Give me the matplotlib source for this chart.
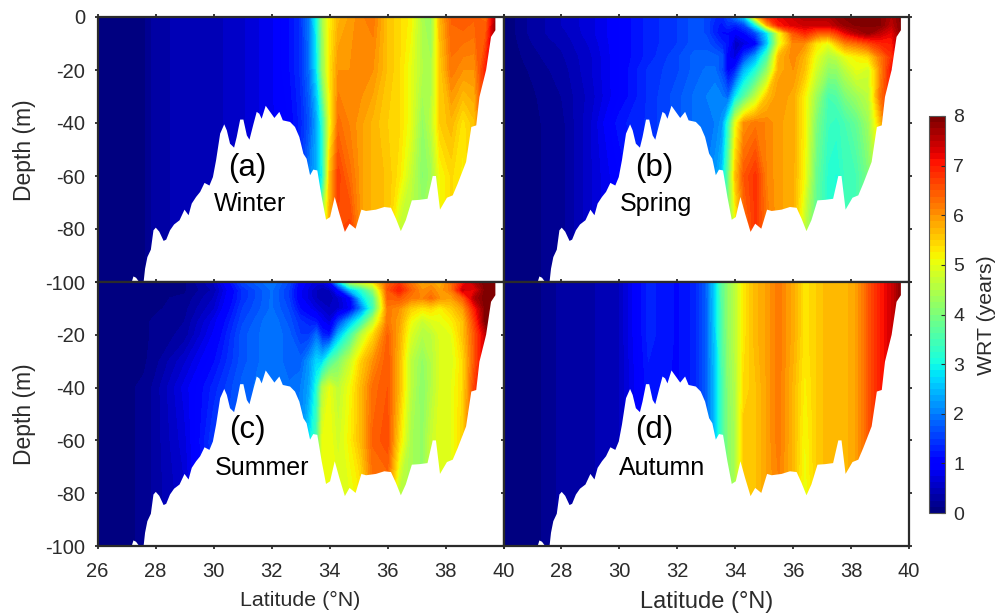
import numpy as np
import matplotlib
matplotlib.use("Agg")
import matplotlib.pyplot as plt
from matplotlib.cm import ScalarMappable
from matplotlib.colors import ListedColormap, Normalize

plt.rcParams['font.family'] = ['Liberation Sans', 'DejaVu Sans']
plt.rcParams['axes.unicode_minus'] = False

# latitude columns shared by all panels
lat_grid = [26, 27, 27.6, 28, 29, 30, 31, 32, 32.6, 33, 33.3, 33.55, 33.75, 34, 34.3,
            34.7, 35.1, 35.5, 36, 36.4, 36.8, 37.2, 37.5, 37.8, 38.2, 38.6, 39, 39.4, 39.8]
depth_coarse = [0, -20, -40, -60, -80, -100]
depth_fine = [0, -3, -6, -10, -15, -20, -30, -40, -60, -80, -100]

winter_wrt = [
    [.05, .05, .1, .35, .4, .45, .6, .85, 1.1, 1.4, 2.0, 3.0, 4.3, 5.2, 5.7, 5.9, 6.1, 6.2, 5.6, 5.4, 5.2, 4.4, 4.2, 5.7, 6.4, 6.5, 6.4, 6.3, 8],
    [.05, .05, .1, .35, .4, .45, .6, .85, 1.1, 1.4, 1.9, 2.8, 4.2, 5.3, 6.0, 6.0, 6.1, 6.0, 5.6, 5.4, 5.0, 4.5, 4.4, 5.5, 6.2, 6.0, 6.0, 7, 8],
    [.05, .05, .1, .35, .4, .45, .6, .85, 1.0, 1.3, 1.7, 2.3, 3.2, 5.0, 6.3, 6.1, 5.9, 5.7, 5.5, 5.4, 5.0, 4.2, 4.6, 5.5, 5.7, 5.3, 5.6, 7, 8],
    [.05, .05, .1, .35, .4, .45, .6, .85, 1.0, 1.4, 2.0, 2.4, 3.0, 5.6, 6.7, 6.3, 5.9, 5.7, 5.6, 5.3, 4.7, 4.1, 4.3, 5.1, 5.4, 5.2, 5.6, 7, 8],
    [.05, .05, .1, .35, .4, .45, .6, .85, 1.0, 1.4, 2.0, 2.6, 4.5, 5.8, 6.6, 6.7, 5.9, 5.7, 5.6, 4.7, 4.5, 4.3, 4.3, 5.1, 5.4, 5.2, 5.6, 7, 8],
    [.05, .05, .1, .35, .4, .45, .6, .85, 1.0, 1.4, 2.0, 2.6, 4.5, 5.8, 6.6, 6.7, 5.9, 5.7, 5.6, 4.7, 4.5, 4.3, 4.3, 5.1, 5.4, 5.2, 5.6, 7, 8],
]

spring_wrt = [
    [0, .3, .4, .5, .7, 1.0, 1.3, 1.5, 1.7, 1.6, 1.4, 1.3, 1.6, 2.0, 2.6, 5.5, 6.8, 7.2, 7.4, 7.6, 7.6, 7.6, 7.8, 7.9, 7.9, 8, 7.9, 7.6, 8],
    [0, .3, .4, .5, .7, 1.0, 1.3, 1.5, 1.7, 1.6, 1.3, 1.2, 1.4, 1.3, 1.6, 3.0, 5.8, 7.0, 7.3, 7.4, 7.4, 7.4, 7.6, 7.8, 7.9, 7.9, 7.9, 7.5, 8],
    [0, .3, .4, .45, .7, 1.0, 1.3, 1.5, 1.7, 1.6, 1.3, 1.1, 1.1, .9, 1.1, 1.6, 2.8, 5.0, 6.5, 6.9, 6.5, 6.4, 6.7, 7.2, 7.6, 7.8, 7.5, 7.2, 8],
    [0, .25, .35, .4, .65, 1.0, 1.3, 1.5, 1.7, 1.7, 1.5, 1.3, 1.2, .5, .7, 1.0, 2.5, 4.9, 6.1, 6.0, 5.3, 5.0, 5.6, 6.1, 6.3, 6.6, 6.9, 7, 8],
    [0, .2, .3, .35, .6, 1.0, 1.3, 1.6, 1.8, 1.8, 1.8, 1.7, .9, .7, 1.5, 2.3, 3.5, 5.7, 6.1, 5.7, 5.0, 4.5, 4.6, 5.0, 5.2, 5.4, 6.2, 6.8, 8],
    [0, .15, .25, .3, .6, 1.0, 1.4, 1.6, 1.8, 1.9, 1.9, 1.6, 1.0, 1.3, 2.4, 3.1, 4.2, 5.8, 6.0, 5.6, 4.8, 4.2, 4.2, 4.6, 5.0, 4.8, 6.0, 7.1, 8],
    [0, .1, .2, .25, .55, 1.0, 1.4, 1.7, 1.9, 2.0, 2.1, 2.0, 1.8, 2.8, 3.6, 4.6, 5.6, 6.0, 5.8, 5.2, 4.3, 3.5, 3.6, 4.0, 4.3, 4.6, 6.2, 7, 8],
    [0, .1, .15, .2, .6, 1.2, 1.4, 1.7, 1.9, 2.0, 2.0, 2.2, 3.2, 5.0, 6.0, 6.2, 6.1, 5.9, 5.8, 5.2, 4.0, 3.4, 3.3, 3.5, 3.8, 4.3, 5.6, 7, 8],
    [0, .1, .15, .2, .6, 1.0, 1.4, 1.7, 1.9, 2.0, 2.2, 2.6, 3.8, 5.6, 6.5, 6.8, 6.1, 5.9, 5.8, 5.1, 3.8, 3.2, 3.1, 3.4, 3.5, 4.0, 5.0, 7, 8],
    [0, .1, .15, .2, .6, 1.0, 1.4, 1.7, 1.9, 2.0, 2.2, 2.6, 4.0, 5.0, 6.2, 6.8, 6.2, 5.9, 5.8, 4.6, 3.7, 3.2, 3.1, 3.4, 3.5, 4.0, 5.0, 7, 8],
    [0, .1, .15, .2, .6, 1.0, 1.4, 1.7, 1.9, 2.0, 2.2, 2.6, 4.0, 5.0, 6.2, 6.8, 6.2, 5.9, 5.8, 4.6, 3.7, 3.2, 3.1, 3.4, 3.5, 4.0, 5.0, 7, 8],
]

summer_wrt = [
    [.05, .1, .1, .1, .1, .5, 1.6, 2.0, 1.6, 1.0, .8, .7, .7, 1.0, 2.6, 4.5, 5.0, 5.3, 6.4, 6.7, 6.2, 5.8, 5.9, 5.7, 6.3, 7.0, 7.6, 8, 8],
    [.05, .1, .1, .1, .1, .4, 1.4, 1.9, 1.5, .9, .7, .5, .4, .5, 1.1, 2.5, 3.2, 4.2, 6.5, 7.0, 6.4, 6.0, 6.1, 5.9, 6.2, 7.4, 7.2, 8, 8],
    [.05, .1, .1, .1, .15, .5, 1.4, 1.9, 1.5, .9, .7, .5, .4, .4, .6, 1.0, 2.7, 3.6, 6.4, 6.5, 6.2, 6.1, 6.3, 6.0, 5.9, 6.4, 7.6, 8, 8],
    [.05, .1, .1, .1, .2, .6, 1.5, 1.9, 1.6, 1.1, .9, .7, .6, .5, .6, .9, 2.0, 3.4, 6.2, 6.0, 5.5, 5.3, 5.4, 5.2, 5.5, 5.9, 7, 8, 8],
    [.05, .1, .1, .15, .25, .8, 1.6, 2.0, 1.7, 1.4, 1.3, 1.2, .9, .7, 1.5, 2.4, 3.3, 4.6, 6.2, 5.9, 5.1, 4.7, 4.9, 5.0, 5.2, 5.6, 6.7, 8, 8],
    [.05, .1, .1, .15, .3, .9, 1.7, 2.0, 1.8, 1.5, 1.5, 1.9, 1.3, 1.2, 2.4, 3.4, 4.6, 5.4, 6.4, 5.8, 4.9, 4.5, 4.6, 4.9, 5.0, 5.6, 6.5, 7.5, 8],
    [.05, .1, .1, .2, .6, 1.1, 1.7, 2.0, 1.8, 1.8, 2.2, 2.7, 2.7, 3.5, 4.0, 4.7, 5.5, 6.0, 6.5, 5.7, 4.6, 4.2, 4.5, 4.9, 4.9, 5.4, 6.5, 7.5, 8],
    [.05, .1, .15, .3, .8, 1.3, 1.8, 2.0, 1.9, 2.0, 2.3, 3.1, 4.5, 5.0, 4.6, 5.1, 5.7, 6.3, 6.5, 5.7, 4.6, 4.1, 4.5, 4.9, 5.0, 5.4, 6.7, 7.5, 8],
    [.05, .1, .15, .3, .7, 1.5, 1.8, 2.0, 1.9, 2.1, 2.8, 3.5, 5.0, 5.1, 4.8, 5.2, 5.7, 6.4, 6.6, 5.4, 4.4, 4.2, 4.7, 5.0, 5.0, 5.5, 6.7, 7.5, 8],
    [.05, .1, .15, .3, .6, 1.5, 1.8, 2.0, 1.9, 2.1, 2.8, 3.5, 5.0, 5.1, 5.0, 5.0, 5.3, 6.2, 6.2, 4.6, 4.4, 4.2, 4.7, 5.0, 5.0, 5.5, 6.7, 7.5, 8],
    [.05, .1, .15, .3, .6, 1.5, 1.8, 2.0, 1.9, 2.1, 2.8, 3.5, 5.0, 5.1, 5.0, 5.0, 5.3, 6.2, 6.2, 4.6, 4.4, 4.2, 4.7, 5.0, 5.0, 5.5, 6.7, 7.5, 8],
]

autumn_wrt = [
    [0, .05, .2, .3, .35, .5, 1.3, 1.1, 1.3, 1.8, 2.7, 3.7, 4.2, 4.6, 5.3, 5.7, 5.9, 6.2, 5.8, 5.3, 5.5, 5.7, 5.7, 5.7, 5.9, 6.5, 7, 7.4, 8],
    [0, .05, .2, .3, .35, .5, 1.3, 1.1, 1.3, 1.8, 2.6, 3.6, 4.2, 4.6, 5.3, 5.7, 5.9, 6.2, 5.8, 5.3, 5.5, 5.7, 5.7, 5.7, 5.9, 6.5, 7, 7.4, 8],
    [0, .05, .2, .3, .35, .5, 1.2, 1.1, 1.3, 1.8, 2.5, 3.5, 4.1, 4.5, 5.4, 5.6, 5.9, 6.2, 5.7, 5.2, 5.5, 5.7, 5.7, 5.7, 5.9, 6.5, 7, 7.4, 8],
    [0, .05, .2, .3, .35, .5, 1.2, 1.1, 1.3, 1.8, 2.5, 3.5, 4.1, 4.4, 5.6, 5.6, 5.9, 6.2, 5.7, 5.1, 5.5, 5.7, 5.7, 5.7, 5.9, 6.5, 7, 7.4, 8],
    [0, .05, .2, .3, .35, .5, 1.2, 1.1, 1.3, 1.8, 2.5, 3.5, 4.1, 4.4, 5.6, 5.6, 5.9, 6.1, 5.7, 5.0, 5.5, 5.7, 5.7, 5.7, 5.9, 6.5, 7, 7.4, 8],
    [0, .05, .2, .3, .35, .5, 1.2, 1.1, 1.3, 1.8, 2.5, 3.5, 4.1, 4.4, 5.6, 5.6, 5.9, 6.1, 5.7, 5.0, 5.5, 5.7, 5.7, 5.7, 5.9, 6.5, 7, 7.4, 8],
]

# sea floor profile
bathy_lat = [27.18, 27.24, 27.33, 27.41, 27.59, 27.64, 27.72, 27.84, 27.93, 28.01, 28.13, 28.28, 28.37, 28.5, 28.64,
             28.83, 29.0, 29.14, 29.25, 29.4, 29.54, 29.69, 29.86, 29.98, 30.09, 30.23, 30.37, 30.46, 30.57, 30.71,
             30.8, 30.92, 31.03, 31.15, 31.24, 31.38, 31.49, 31.58, 31.66, 31.8, 31.95, 32.1, 32.27, 32.39, 32.64,
             32.81, 32.96, 33.1, 33.21, 33.33, 33.44, 33.58, 33.73, 33.88, 34.02, 34.18, 34.34, 34.53, 34.69, 34.9,
             35.1, 35.26, 35.6, 35.89, 36.12, 36.29, 36.46, 36.63, 36.84, 37.1, 37.38, 37.56, 37.67, 37.81, 38.05,
             38.25, 38.42, 38.71, 38.89, 39.06, 39.17, 39.4, 39.57, 39.72, 39.72]
bathy_depth = [-100, -97.9, -98.4, -99.6, -100, -95, -90.6, -87.8, -80.5, -79.5, -81, -84.5, -84, -80.5, -78.3,
               -76.7, -72.7, -74.8, -70.4, -67.9, -66, -62.6, -63.6, -60.4, -54, -44, -40.5, -42.8, -47.8, -49.3,
               -45.3, -38.7, -38.7, -44.7, -46.3, -40.3, -35.8, -36.5, -38.4, -33.5, -35.8, -38.1, -35.8, -39, -39.6,
               -41.5, -45.3, -51.6, -53.5, -59.7, -57.6, -57.9, -67.9, -76.5, -75.5, -67.9, -74.2, -81.1, -78, -79.9,
               -72.7, -73.2, -72.7, -71.7, -72, -76.1, -80.8, -76.7, -69.2, -69, -68.6, -60, -60, -72.7, -68.2,
               -67.3, -62.9, -54.7, -41.5, -40.9, -30.2, -20, -7.5, -5, 0]

x_ticks = [26, 28, 30, 32, 34, 36, 38, 40]
y_ticks = [0, -20, -40, -60, -80, -100]
cbar_ticks = [0, 1, 2, 3, 4, 5, 6, 7, 8]

panel_labels = ["(a)", "(b)", "(c)", "(d)"]
season_names = ["Winter", "Spring", "Summer", "Autumn"]
label_lat = [31.18, 31.2, 31.17, 31.2]
season_lat = [31.26, 31.25, 31.67, 31.48]

W, H = 1006, 615
GREY = '#2b2b2b'
cmap = ListedColormap(plt.get_cmap('jet')(np.linspace(0, 1, 64)))
norm = Normalize(0, 8)
levels = np.linspace(0, 8, 65)


def add_axes(left, top, right, bottom):
    return fig.add_axes([left / W, 1 - bottom / H, (right - left) / W, (bottom - top) / H])


fig = plt.figure(figsize=(W / 100, H / 100), dpi=100)

axes = [add_axes(97.5, 17, 503.5, 282),
        add_axes(503.5, 17, 909, 282),
        add_axes(97.5, 282, 503.5, 546),
        add_axes(503.5, 282, 909, 546)]
panel_data = [(depth_coarse, winter_wrt), (depth_fine, spring_wrt),
              (depth_fine, summer_wrt), (depth_coarse, autumn_wrt)]

for i, ax in enumerate(axes):
    depths, wrt = panel_data[i]
    ax.contourf(lat_grid, depths, np.array(wrt), levels=levels, cmap=cmap, norm=norm, extend='both')
    ax.set_xlim(26, 40)
    ax.set_ylim(-100, 0)

    # blank out everything below the sea floor
    ax.fill(bathy_lat + [40, 40], bathy_depth + [0, -100], color='white', lw=0, zorder=2)

    ax.set_xticks(x_ticks)
    ax.set_yticks(y_ticks)
    xt = [str(v) for v in x_ticks]
    yt = [str(v) for v in y_ticks]
    if i < 2:
        xt = [""] * len(x_ticks)
    if i == 3:
        xt[0] = ""
    if i % 2 == 1:
        yt = [""] * len(y_ticks)
    if i == 2:
        yt[0] = ""
    ax.set_xticklabels(xt)
    ax.set_yticklabels(yt)
    ax.tick_params(axis='x', direction='out', length=2.5, width=1.3, color=GREY, labelcolor=GREY,
                   labelsize=14.5, top=True, pad=9)
    ax.tick_params(axis='y', direction='out', length=2.5, width=1.3, color=GREY, labelcolor=GREY,
                   labelsize=14.5, right=True, pad=6.5)
    for s in ax.spines.values():
        s.set_linewidth(1.6)
        s.set_color(GREY)
        s.set_zorder(5)

    yl = -57 if i < 2 else -56
    ax.text(label_lat[i], yl, panel_labels[i], fontsize=22.5, color='black', ha='center', va='center', zorder=3)
    ax.text(season_lat[i], -70.5, season_names[i], fontsize=18, color='black', ha='center', va='center', zorder=3)

fig.text(25 / W, 1 - 150 / H, "Depth (m)", rotation=90, fontsize=16.5, color=GREY, ha='center', va='center')
fig.text(25 / W, 1 - 414 / H, "Depth (m)", rotation=90, fontsize=16.5, color=GREY, ha='center', va='center')
fig.text(300 / W, 1 - 600 / H, "Latitude (°N)", fontsize=15.4, color=GREY, ha='center', va='center')
fig.text(707 / W, 1 - 602 / H, "Latitude (°N)", fontsize=17, color=GREY, ha='center', va='center')

# colorbar
cax = add_axes(929, 116, 945, 513)
cb = fig.colorbar(ScalarMappable(norm=norm, cmap=cmap), cax=cax, ticks=cbar_ticks)
cb.ax.tick_params(direction='in', length=3, width=0.8, color=GREY, labelcolor=GREY, labelsize=14, pad=6)
cb.outline.set_edgecolor('#555555')
cb.outline.set_linewidth(0.8)
fig.text(986 / W, 1 - 315 / H, "WRT (years)", rotation=90, fontsize=15.3, color=GREY, ha='center', va='center')

fig.savefig("out.png", dpi=100)
plt.close(fig)
